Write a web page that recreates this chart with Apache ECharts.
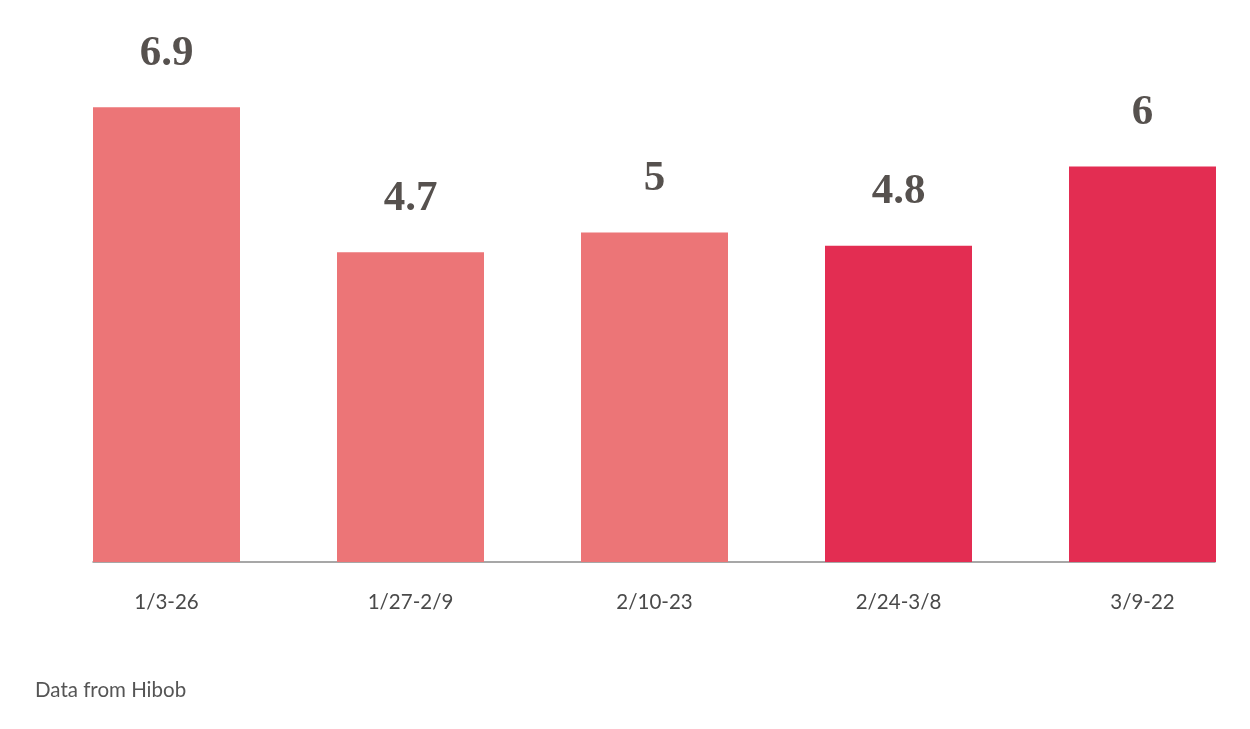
<!DOCTYPE html>
<html>
<head>
<meta charset="utf-8">
<style>
html,body{margin:0;padding:0;background:#fff;}
#chart{width:1250px;height:729px;}
</style>
<script src="https://cdn.jsdelivr.net/npm/echarts@6/dist/echarts.min.js"></script>
</head>
<body>
<div id="chart"></div>
<script>
const categories = ['1/3-26', '1/27-2/9', '2/10-23', '2/24-3/8', '3/9-22'];
const values = [6.9, 4.7, 5, 4.8, 6];
const highlighted = [false, false, false, true, true];

const LIGHT = '#EC7577';
const DARK = '#E32D52';

const chart = echarts.init(document.getElementById('chart'), null, {renderer: 'canvas'});
chart.setOption({
  backgroundColor: '#ffffff',
  animation: false,
  grid: [
    {left: 166.5, right: 107.5, top: 100.7, bottom: 167},
    {left: 93, right: 35, top: 100.7, bottom: 167}
  ],
  xAxis: [
    {
      type: 'category', gridIndex: 0, data: categories, boundaryGap: false,
      axisLine: {show: false}, axisTick: {show: false},
      axisLabel: {color: '#4a4a4a', fontFamily: 'Lato, "Open Sans", sans-serif', fontSize: 20.5, margin: 30}
    },
    {
      type: 'value', gridIndex: 1, min: 0, max: 1,
      axisLine: {show: true, onZero: false, lineStyle: {color: '#8a8a8a', width: 1.5}},
      axisTick: {show: false}, axisLabel: {show: false}, splitLine: {show: false}
    }
  ],
  yAxis: [
    {type: 'value', gridIndex: 0, min: 0, max: 7, show: false},
    {type: 'value', gridIndex: 1, min: 0, max: 1, show: false}
  ],
  series: [{
    type: 'bar',
    xAxisIndex: 0, yAxisIndex: 0,
    barWidth: 147,
    clip: false,
    data: values.map((v, i) => ({value: v, itemStyle: {color: highlighted[i] ? DARK : LIGHT}})),
    label: {
      show: true, position: 'top', distance: 32,
      color: '#56514e', fontFamily: '"Liberation Serif", "DejaVu Serif", serif',
      fontWeight: 'bold', fontSize: 43
    }
  }],
  graphic: [{
    type: 'text', left: 35, top: 680,
    style: {text: 'Data from Hibob', fill: '#555', font: '20.5px Lato, "Open Sans", sans-serif'}
  }]
});
</script>
</body>
</html>
